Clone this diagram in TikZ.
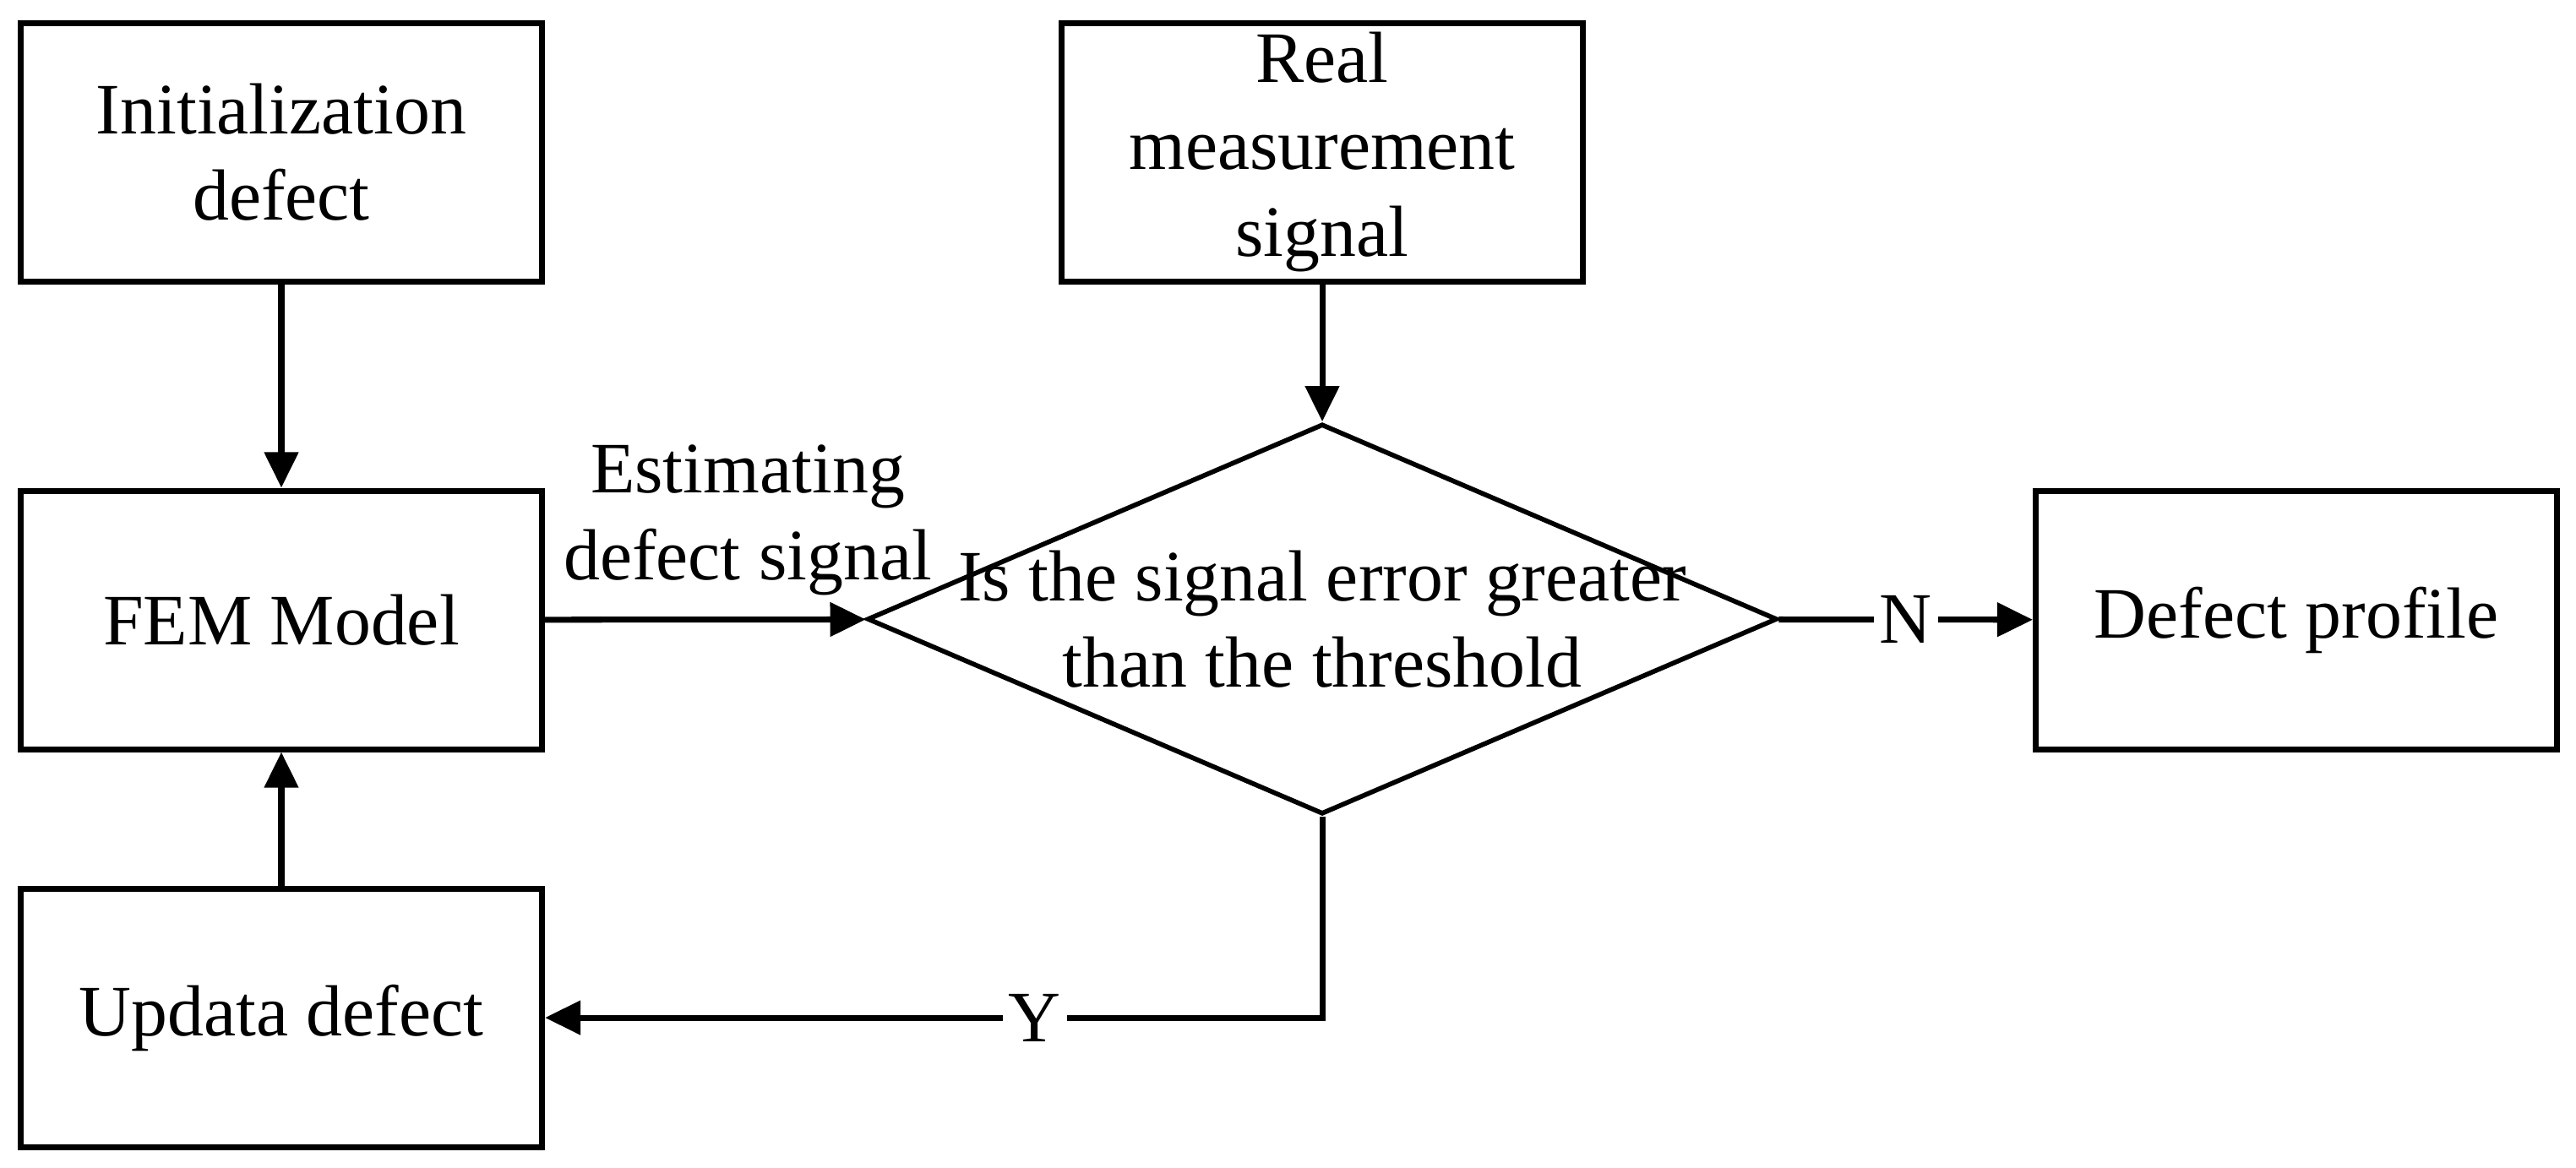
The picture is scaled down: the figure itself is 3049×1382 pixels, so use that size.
\documentclass[tikz,border=0pt]{standalone}
\usepackage{fontspec}
\setmainfont{Liberation Serif}
\usetikzlibrary{shapes.geometric, arrows.meta}

\begin{document}
\begin{tikzpicture}[x=0.05mm, y=-0.05mm,
    box/.style={draw, line width=1pt, minimum width=3.085cm, minimum height=1.53cm,
        inner sep=0pt, align=center, font=\fontsize{12.2}{14.6}\selectfont},
    decision/.style={draw, diamond, line width=0.8pt, minimum width=5.385cm,
        minimum height=2.31cm, inner sep=0pt},
    txt/.style={align=center, inner sep=1pt, font=\fontsize{12.2}{14.6}\selectfont},
    flow/.style={line width=1pt, -{Triangle[length=6pt, width=5.6pt]}}]
    \useasboundingbox (0,0) rectangle (3049,1382);

    % Boxes
    \node[box] (init) at (333,180) {Initialization\\defect};
    \node[box] (real) at (1565,180) {Real\\measurement\\signal};
    \node[box] (fem) at (333,734) {FEM Model};
    \node[box] (upd) at (333,1205) {Updata defect};
    \node[box] (prof) at (2718,734) {Defect profile};

    % Decision
    \node[decision] (dec) at (1565,733) {};
    \node[txt] (dectext) at (dec.center) {Is the signal error greater\\than the threshold};

    % Connectors
    \draw[flow] (init) -- (fem);
    \draw[flow] (upd) -- (fem);
    \draw[flow] (real) -- (dec);
    \draw[flow] (fem) -- (dec);
    \node[txt] (est) at (885,616) {Estimating\\defect signal};
    \draw[flow] (dec) -- node[txt, fill=white] (nlbl) {N} (prof);
    \draw[flow] (dec.south) |- node[txt, fill=white, pos=0.685] (ylbl) {Y} (upd);
\end{tikzpicture}
\end{document}
